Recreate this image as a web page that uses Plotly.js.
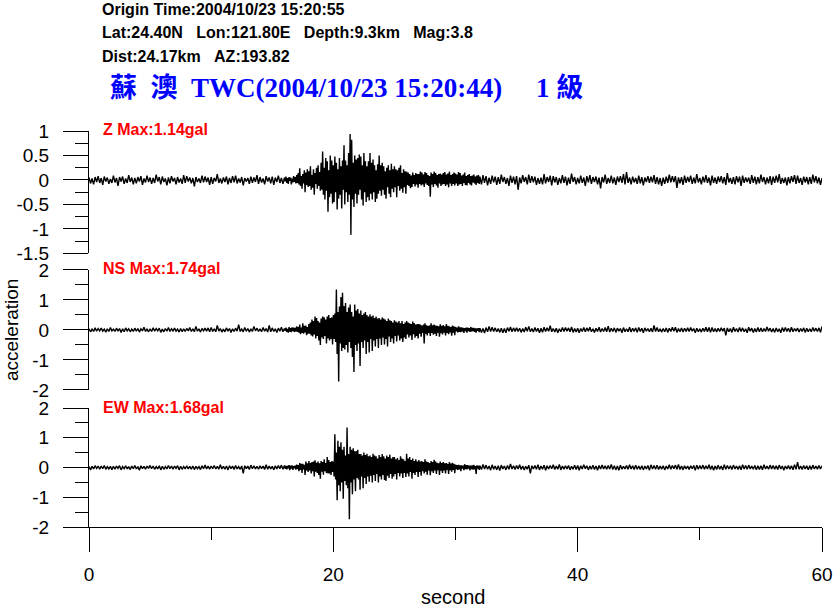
<!DOCTYPE html>
<html><head><meta charset="utf-8">
<script src="https://cdn.plot.ly/plotly-3.0.1.min.js"></script>
<style>html,body{margin:0;padding:0;background:#fff}#chart{width:835px;height:609px}</style>
</head><body><div id="chart"></div>
<script>
// Accelerations in hundredths of a gal.
// Each trace is in three pieces: before the shaking (0-16 s, 8 samples/s),
// the shaking (16-32 s, 16 samples/s) and after it (32-60 s, 8 samples/s).
const preStart = 0, preStep = 0.125;
const burstStart = 16, burstStep = 0.0625;
const postStart = 32, postStep = 0.125;

const zPre = [
5,-7,3,-9,6,-4,8,-6, 4,-10,7,-3,5,-8,2,-6, 9,-5,4,-12,6,-3,7,-8, 3,-6,10,-4,5,-9,4,-7,
6,-3,8,-10,3,-5,9,-4, 5,-8,4,-6,11,-3,6,-9, 7,-4,3,-11,5,-7,8,-3, 4,-9,6,-5,3,-8,10,-6,
8,-3,5,-7,4,-13,6,-4, 3,-6,9,-5,7,-4,5,-10, 6,-8,4,-3,12,-6,3,-7, 5,-4,7,-9,4,-6,8,-5,
9,-7,3,-5,6,-11,4,-3, 4,-8,7,-6,5,-4,10,-8, 6,-5,3,-9,8,-3,5,-7, 7,-10,5,-4,9,-6,4,-8];
const zBurst = [
5,-3,7,-6,4,-8,6,-2,5,-9,3,-5,8,-4,6,-7,
10,-6,14,-9,24,-12,8,-18,12,-7,20,-25,15,-10,22,-14,
18,-12,28,-20,10,-16,22,-30,14,-8,25,-18,30,-12,16,-22,
35,-20,58,-30,25,-40,45,-22,38,-65,20,-35,50,-28,40,-48,
30,-45,48,-25,35,-60,22,-38,45,-30,28,-58,40,-20,71,-50,
40,-25,30,-45,55,-30,94,-112,82,-40,35,-55,50,-28,42,-48,
45,-30,52,-20,48,-40,30,-52,55,-25,38,-45,28,-35,38,-42,
55,-28,35,-40,42,-25,30,-45,20,-38,32,-28,50,-22,30,-32,
35,-20,28,-30,18,-38,25,-15,30,-28,20,-35,33,-18,22,-25,
28,-15,22,-35,20,-12,25,-22,30,-18,14,-26,22,-15,18,-28,
17,-10,15,-12,12,-17,9,-14,15,-8,10,-13,14,-9,12,-16,
12,-8,17,-11,15,-9,11,-14,16,-7,14,-10,10,-12,8,-34,
15,-9,12,-14,17,-8,14,-11,10,-16,12,-7,13,-12,11,-9,
14,-8,16,-12,11,-9,13,-15,17,-7,10,-12,12,-8,15,-11,
13,-7,11,-12,16,-9,14,-8,9,-12,11,-6,15,-10,8,-11,
10,-6,12,-9,8,-11,9,-5,11,-7,7,-10,9,-6,10,-8];
const zPost = [
7,-9,10,-6,8,-11,5,-8, 9,-5,7,-10,6,-8,11,-4, 6,-8,4,-12,9,-6,7,-9, 8,-20,5,-7,10,-4,6,-9,
11,-6,8,-5,7,-10,4,-8, 5,-9,12,-7,6,-4,9,-11, 8,-5,6,-10,4,-7,10,-6, 7,-11,5,-8,13,-4,6,-9,
4,-7,9,-6,5,-12,8,-5, 10,-8,6,-4,7,-9,5,-17, 6,-5,11,-8,4,-6,9,-7, 5,-10,7,-4,8,-6,12,-9,
16,-6,5,-9,7,-5,4,-8, 9,-7,6,-11,5,-4,8,-6, 7,-5,10,-8,6,-9,4,-12, 5,-8,7,-6,11,-5,8,-4,
8,-16,5,-7,6,-10,9,-6, 6,-4,9,-8,5,-7,12,-5, 4,-9,7,-5,10,-6,5,-11, 9,-6,5,-8,7,-4,8,-7,
6,-10,14,-5,4,-8,6,-9, 8,-5,7,-12,9,-6,5,-4, 5,-8,10,-6,7,-9,6,-7, 11,-4,6,-9,5,-7,8,-10,
7,-6,9,-5,12,-8,4,-6, 5,-11,6,-7,8,-4,10,-8, 9,-6,4,-10,7,-5,6,-9, 6,-8,11,-5,8,-7,5,-10,
4];

const nsPre = [
4,-6,3,-5,7,-4,5,-3, 6,-4,3,-7,4,-5,8,-3, 3,-5,6,-4,5,-8,4,-6, 7,-3,4,-6,3,-5,6,-4,
5,-7,4,-3,9,-5,3,-6, 4,-5,7,-4,5,-3,6,-8, 3,-6,5,-4,8,-5,4,-3, 6,-4,3,-7,5,-6,4,-5,
5,-3,8,-5,4,-6,12,-4, 4,-7,5,-3,6,-4,7,-6, 8,-5,4,-6,15,-4,5,-7, 3,-6,7,-4,5,-8,4,-5,
6,-4,18,-5,3,-6,8,-4, 5,-7,4,-5,12,-3,6,-5, 4,-6,8,-4,5,-7,15,-6, 7,-5,4,-8,6,-4,9,-6];
const nsBurst = [
5,-3,8,-6,4,-9,10,-5,6,-7,9,-4,8,-6,7,-5,
12,-6,10,-9,18,-14,8,-10,22,-12,14,-8,15,-17,10,-12,
20,-12,25,-18,35,-22,30,-15,45,-28,40,-20,30,-35,25,-50,
38,-25,45,-30,42,-20,35,-45,45,-28,50,-35,40,-30,42,-48,
50,-30,55,-40,135,-80,60,-172,78,-45,110,-70,124,-60,80,-65,
90,-50,60,-75,75,-40,85,-60,60,-90,45,-140,85,-50,65,-70,
70,-45,55,-120,65,-40,50,-60,55,-35,60,-80,50,-40,45,-75,
52,-30,45,-70,48,-35,40,-55,45,-30,38,-60,40,-28,35,-50,
42,-25,38,-48,35,-30,30,-55,38,-22,32,-40,30,-28,25,-45,
32,-20,28,-38,25,-18,30,-35,22,-28,30,-40,20,-25,25,-30,
30,-15,25,-25,22,-18,20,-33,28,-14,22,-26,18,-20,20,-28,
20,-12,18,-22,15,-10,18,-45,22,-12,16,-18,14,-10,15,-20,
22,-10,16,-16,18,-12,15,-20,14,-9,12,-22,19,-11,14,-15,
16,-9,12,-18,20,-10,14,-14,12,-8,10,-19,15,-9,12,-17,
10,-5,8,-8,12,-6,9,-7,9,-5,7,-10,6,-4,8,-9,
8,-4,6,-6,10,-5,7,-4,7,-6,5,-9,5,-3,6,-7];
const nsPost = [
6,-8,5,-10,8,-6,12,-5, 9,-5,7,-6,5,-8,6,-9, 5,-9,8,-4,10,-6,7,-5, 7,-5,6,-8,5,-7,9,-4,
12,-6,5,-7,8,-5,6,-9, 6,-8,9,-5,7,-4,14,-6, 5,-7,6,-9,4,-6,8,-5, 8,-4,7,-6,10,-8,5,-7,
6,-9,5,-5,8,-6,7,-4, 9,-6,4,-8,6,-5,9,-7, 5,-5,8,-6,13,-7,6,-5, 7,-8,6,-4,5,-9,8,-6,
4,-6,9,-7,6,-5,7,-8, 8,-5,6,-9,7,-4,5,-6, 6,-7,15,-5,8,-6,4,-7, 5,-6,7,-8,6,-5,9,-4,
9,-8,5,-6,7,-7,6,-5, 7,-5,8,-4,5,-9,6,-6, 4,-7,6,-5,9,-6,8,-8, 8,-6,5,-7,6,-5,7,-4,
6,-18,7,-6,5,-8,9,-5, 5,-7,8,-5,7,-6,4,-9, 9,-4,6,-8,5,-7,8,-6, 7,-6,5,-5,10,-4,6,-7,
5,-8,7,-6,4,-9,8,-5, 8,-5,6,-7,9,-6,5,-4, 6,-7,5,-5,7,-8,6,-6, 4,-6,8,-4,6,-5,7,-8,
12];

const ewPre = [
3,-8,4,-5,6,-3,5,-6, 5,-4,7,-6,3,-5,4,-7, 4,-6,5,-3,6,-8,3,-4, 6,-5,3,-7,5,-4,7,-5,
3,-9,6,-4,4,-6,5,-3, 7,-4,5,-6,3,-5,6,-8, 4,-6,3,-5,7,-4,5,-6, 5,-3,6,-8,4,-6,3,-5,
6,-5,4,-6,5,-7,4,-4, 3,-7,6,-4,8,-5,5,-6, 5,-4,7,-5,4,-6,9,-5, 4,-6,5,-8,6,-4,5,-7,
7,-5,3,-6,5,-20,6,-4, 5,-7,8,-4,6,-5,4,-6, 6,-4,5,-7,9,-6,5,-5, 4,-8,6,-5,7,-4,8,-6];
const ewBurst = [
7,-4,5,-6,5,-3,8,-9,6,-4,7,-8,5,-3,6,-7,
10,-5,8,-12,15,-8,12,-18,12,-6,9,-25,20,-10,14,-15,
22,-10,15,-20,18,-12,20,-30,24,-14,16,-18,20,-25,14,-38,
22,-14,18,-24,28,-12,15,-18,35,-20,25,-20,18,-25,22,-15,
20,-30,112,-40,50,-110,90,-60,70,-80,85,-50,60,-105,70,-45,
40,-60,134,-70,45,-174,70,-50,60,-90,65,-40,55,-80,55,-35,
60,-40,45,-75,45,-30,40,-70,50,-35,42,-55,46,-30,38,-48,
40,-28,35,-50,46,-25,40,-45,38,-22,30,-50,42,-30,35,-40,
45,-25,38,-42,30,-45,40,-28,35,-35,44,-22,30,-38,35,-30,
35,-22,28,-40,32,-18,25,-30,38,-20,30,-35,28,-18,22,-32,
46,-20,30,-30,35,-15,25,-38,30,-18,22,-25,28,-15,20,-32,
25,-15,20,-28,22,-12,18,-20,28,-14,20,-24,18,-10,15,-26,
22,-12,18,-18,26,-10,20,-22,16,-9,14,-25,20,-11,15,-18,
18,-10,14,-20,15,-8,12,-22,18,-9,13,-14,16,-8,12,-19,
10,-5,8,-8,9,-6,7,-12,7,-4,6,-9,11,-5,8,-6,
8,-4,6,-10,6,-5,7,-7,9,-6,5,-22,7,-4,6,-8];
const ewPost = [
6,-7,10,-5,8,-6,5,-9, 9,-6,5,-8,6,-10,8,-5, 5,-8,7,-6,12,-5,6,-7, 7,-5,9,-7,5,-8,4,-6,
8,-20,6,-5,7,-6,9,-8, 5,-6,8,-9,6,-5,7,-4, 9,-7,5,-6,10,-8,5,-6, 6,-5,7,-8,4,-6,8,-7,
7,-9,6,-5,9,-4,6,-8, 5,-6,8,-7,5,-9,7,-5, 8,-5,6,-6,7,-5,10,-7, 6,-8,5,-9,8,-6,4,-5,
7,-6,9,-5,6,-7,8,-6, 5,-7,6,-8,5,-5,7,-9, 9,-5,7,-6,8,-7,5,-6, 6,-8,5,-5,9,-6,7,-4,
8,-6,10,-7,5,-8,6,-5, 5,-7,6,-4,7,-9,8,-6, 7,-5,8,-6,6,-5,9,-7, 6,-9,5,-7,8,-6,5,-8,
9,-6,7,-5,6,-7,8,-5, 5,-7,6,-8,9,-5,7,-6, 8,-5,5,-6,7,-8,6,-7, 6,-8,9,-5,5,-6,8,-5,
7,-6,6,-7,8,-5,5,-9, 5,-5,7,-6,6,-8,9,-6, 18,-6,5,-7,7,-5,6,-8, 6,-7,8,-5,5,-6,7,-5,
6];

const componentLabels = ['Z Max:1.14gal', 'NS Max:1.74gal', 'EW Max:1.68gal'];
const headerLines = [
  'Origin Time:2004/10/23 15:20:55',
  'Lat:24.40N\u00a0\u00a0\u00a0Lon:121.80E\u00a0\u00a0\u00a0Depth:9.3km\u00a0\u00a0\u00a0Mag:3.8',
  'Dist:24.17km\u00a0\u00a0\u00a0AZ:193.82'
];
const stationTitle = '蘇\u00a0\u00a0澳\u00a0\u00a0TWC(2004/10/23 15:20:44)\u00a0\u00a0\u00a0\u00a0\u00a01\u00a0級';
const xTickVals = [0, 20, 40, 60];
const xTickText = ['0', '20', '40', '60'];
const zTickVals = [1, 0.5, 0, -0.5, -1, -1.5];
const zTickText = ['1', '0.5', '0', '-0.5', '-1', '-1.5'];
const hTickVals = [2, 1, 0, -1, -2];
const hTickText = ['2', '1', '0', '-1', '-2'];

const sans = 'Liberation Sans, Arial, sans-serif';

function pieces(pre, burst, post) {
  const x = [], y = [];
  [[pre, preStart, preStep], [burst, burstStart, burstStep], [post, postStart, postStep]].forEach(([vals, start, step]) => {
    vals.forEach((v, i) => { x.push(start + i * step); y.push(v / 100); });
  });
  return {x, y};
}

function trace(pre, burst, post, yax) {
  const d = pieces(pre, burst, post);
  return {
    type: 'scatter', mode: 'lines', x: d.x, y: d.y,
    xaxis: 'x', yaxis: yax, line: {color: '#000', width: 1.4, simplify: false},
    hoverinfo: 'skip', showlegend: false
  };
}

function yAxis(domain, range, vals, text, minorStep) {
  return {
    domain: domain, range: range, anchor: 'x', showline: true, linecolor: '#000', linewidth: 1,
    ticks: 'outside', ticklen: 25, tickwidth: 1, tickcolor: '#000',
    tickmode: 'array', tickvals: vals, ticktext: text, ticklabelstandoff: 10,
    minor: {ticks: 'outside', ticklen: 13, tickwidth: 1, tickcolor: '#000', tickmode: 'linear', tick0: 0, dtick: minorStep, showgrid: false},
    tickfont: {family: sans, size: 19, color: '#000'},
    showgrid: false, zeroline: false, fixedrange: true
  };
}

const annotations = [];
const labelY = [1.005, 0.654, 0.303];
componentLabels.forEach((t, i) => annotations.push({
  text: '<b>' + t + '</b>', xref: 'paper', yref: 'paper', x: 0.0164, y: labelY[i],
  xanchor: 'left', yanchor: 'middle', showarrow: false,
  font: {family: sans, size: 16, color: '#ff0000'}
}));
const headerY = [1.3080, 1.2480, 1.1890];
headerLines.forEach((t, i) => annotations.push({
  text: '<b>' + t + '</b>', xref: 'paper', yref: 'paper', x: 0.015, y: headerY[i],
  xanchor: 'left', yanchor: 'middle', showarrow: false,
  font: {family: sans, size: 16, color: '#000'}
}));
annotations.push({
  text: '<b>' + stationTitle + '</b>', xref: 'paper', yref: 'paper', x: 0.0255, y: 1.1086,
  xanchor: 'left', yanchor: 'middle', showarrow: false,
  font: {family: 'Liberation Serif, Times New Roman, Noto Sans CJK TC, serif', size: 27, color: '#0000ff'}
});
annotations.push({
  text: 'acceleration', xref: 'paper', yref: 'paper', x: -0.105, y: 0.4975, textangle: -90,
  xanchor: 'center', yanchor: 'middle', showarrow: false,
  font: {family: sans, size: 19, color: '#000'}
});
annotations.push({
  text: 'second', xref: 'paper', yref: 'paper', x: 0.4966, y: -0.1768,
  xanchor: 'center', yanchor: 'middle', showarrow: false,
  font: {family: sans, size: 20, color: '#000'}
});

const layout = {
  width: 835, height: 609,
  margin: {l: 89, r: 13, t: 131, b: 82, pad: 0},
  paper_bgcolor: '#fff', plot_bgcolor: '#fff',
  showlegend: false,
  xaxis: {
    domain: [0, 1], range: [0, 60], anchor: 'y3', showline: true, linecolor: '#000', linewidth: 1,
    ticks: 'outside', ticklen: 24, tickwidth: 1, tickcolor: '#000',
    tickmode: 'array', tickvals: xTickVals, ticktext: xTickText, ticklabelstandoff: 6,
    minor: {ticks: 'outside', ticklen: 12, tickwidth: 1, tickcolor: '#000', tickmode: 'linear', tick0: 0, dtick: 10, showgrid: false},
    tickfont: {family: sans, size: 19, color: '#000'},
    showgrid: false, zeroline: false, fixedrange: true
  },
  yaxis: yAxis([0.6907, 1], [-1.5, 1], zTickVals, zTickText, 0.25),
  yaxis2: yAxis([0.346, 0.649], [-2, 2], hTickVals, hTickText, 0.5),
  yaxis3: yAxis([0, 0.3005], [-2, 2], hTickVals, hTickText, 0.5),
  annotations: annotations
};

Plotly.newPlot('chart', [trace(zPre, zBurst, zPost, 'y'), trace(nsPre, nsBurst, nsPost, 'y2'), trace(ewPre, ewBurst, ewPost, 'y3')], layout, {staticPlot: true, displayModeBar: false});
</script>
</body></html>
